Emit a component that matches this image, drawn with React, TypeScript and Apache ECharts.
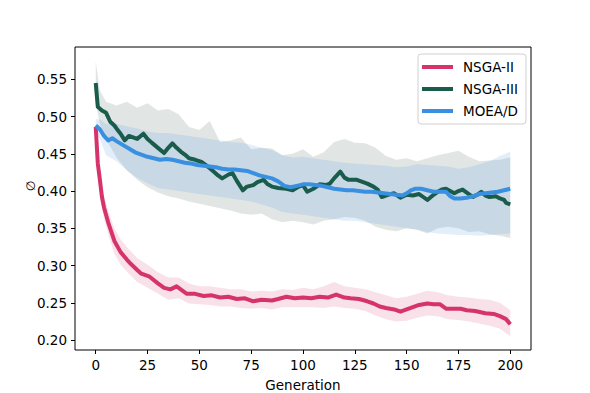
import React, { useEffect, useRef } from "react";
import * as echarts from "echarts";

const SERIES_NAMES = ["NSGA-II", "NSGA-III", "MOEA/D"];
const COLORS = ["#D6336C", "#1A5C4C", "#3A90E0"];
const BAND_COLORS = ["rgba(214,51,108,0.15)", "rgba(40,80,70,0.14)", "rgba(58,144,224,0.15)"];

const X_TICKS = [0, 25, 50, 75, 100, 125, 150, 175, 200];
const Y_TICKS = [0.2, 0.25, 0.3, 0.35, 0.4, 0.45, 0.5, 0.55];

// NSGA-II mean
const nsga2Gens = [0,1,2,3,4,6,9,12,15,17,20,22,26,30,33,36,39,42,44,48,52,56,60,64,68,72,76,80,85,88,92,96,100,104,108,112,116,120,123,127,131,134,137,140,144,147,150,153,156,160,163,166,169,172,176,179,183,188,192,195,198,200];
const nsga2Vals = [0.486,0.437,0.415,0.392,0.378,0.358,0.333,0.318,0.308,0.302,0.294,0.289,0.285,0.276,0.270,0.268,0.272,0.266,0.262,0.262,0.259,0.260,0.257,0.258,0.255,0.256,0.252,0.254,0.253,0.255,0.258,0.256,0.257,0.256,0.258,0.257,0.261,0.257,0.256,0.255,0.252,0.249,0.245,0.243,0.241,0.238,0.241,0.244,0.247,0.249,0.248,0.248,0.242,0.242,0.242,0.240,0.239,0.236,0.235,0.232,0.228,0.221];

// NSGA-III mean
const nsga3Gens = [0,1,3,5,7,9,10,12,14,16,18,20,23,25,27,30,33,35,37,39,41,43,45,48,51,54,57,59,61,64,66,68,71,73,76,78,81,83,85,88,92,95,98,100,102,105,108,111,113,115,118,120,122,126,129,131,134,136,138,141,144,147,150,153,156,158,160,163,165,167,169,171,173,175,177,180,182,184,186,188,190,193,195,197,198,200];
const nsga3Vals = [0.545,0.513,0.508,0.505,0.493,0.488,0.484,0.477,0.468,0.474,0.472,0.470,0.477,0.470,0.465,0.458,0.451,0.458,0.464,0.458,0.453,0.449,0.444,0.442,0.439,0.433,0.426,0.421,0.417,0.422,0.424,0.414,0.401,0.406,0.408,0.412,0.415,0.409,0.406,0.404,0.403,0.401,0.406,0.408,0.399,0.403,0.409,0.408,0.410,0.417,0.426,0.418,0.415,0.415,0.412,0.410,0.406,0.402,0.392,0.395,0.397,0.391,0.395,0.394,0.396,0.392,0.388,0.395,0.399,0.402,0.403,0.400,0.397,0.400,0.402,0.396,0.392,0.395,0.399,0.394,0.392,0.393,0.390,0.388,0.384,0.382];

// MOEA/D mean
const moeadGens = [0,2,4,6,8,10,13,16,19,22,25,28,31,34,37,40,43,46,49,52,55,58,61,64,67,70,73,76,79,82,85,88,91,94,97,100,103,106,109,112,115,118,121,124,127,130,133,136,139,142,145,148,150,152,154,157,160,163,166,169,171,173,176,179,182,185,188,191,194,197,200];
const moeadVals = [0.488,0.483,0.474,0.468,0.471,0.467,0.462,0.457,0.452,0.449,0.446,0.444,0.442,0.443,0.442,0.440,0.438,0.437,0.435,0.434,0.433,0.432,0.430,0.429,0.429,0.428,0.427,0.424,0.421,0.419,0.417,0.413,0.407,0.405,0.407,0.409,0.409,0.408,0.407,0.405,0.403,0.402,0.401,0.401,0.400,0.399,0.399,0.398,0.397,0.396,0.395,0.394,0.397,0.401,0.403,0.403,0.401,0.399,0.399,0.399,0.393,0.390,0.390,0.391,0.393,0.396,0.397,0.398,0.399,0.401,0.403];

// Bands
const nsga2BandGens = [0,1,2,3,4,6,9,12,15,20,25,30,35,40,45,50,55,60,65,70,75,80,85,90,95,100,105,110,115,120,125,130,135,140,145,150,155,160,165,170,175,180,185,190,195,200];
const nsga2Upper = [0.490,0.447,0.428,0.406,0.393,0.374,0.350,0.335,0.325,0.310,0.301,0.291,0.284,0.284,0.276,0.272,0.272,0.270,0.268,0.268,0.265,0.266,0.265,0.268,0.267,0.270,0.268,0.272,0.278,0.272,0.270,0.268,0.264,0.260,0.256,0.258,0.262,0.266,0.264,0.260,0.258,0.257,0.255,0.254,0.250,0.240];
const nsga2Lower = [0.482,0.427,0.402,0.378,0.363,0.342,0.316,0.301,0.292,0.278,0.270,0.262,0.254,0.256,0.249,0.248,0.247,0.245,0.245,0.243,0.242,0.243,0.241,0.244,0.244,0.244,0.244,0.243,0.245,0.243,0.242,0.239,0.233,0.228,0.225,0.226,0.230,0.233,0.232,0.228,0.227,0.225,0.222,0.219,0.215,0.205];

const bandGens = [0,2,5,10,15,20,25,30,35,40,45,50,55,60,65,70,75,80,85,90,95,100,105,110,115,120,125,130,135,140,145,150,155,160,165,170,175,180,185,190,195,200];
const nsga3Upper = [0.574,0.535,0.520,0.515,0.520,0.512,0.518,0.508,0.510,0.503,0.486,0.482,0.494,0.466,0.468,0.472,0.456,0.458,0.457,0.448,0.450,0.456,0.446,0.452,0.466,0.470,0.465,0.464,0.458,0.447,0.442,0.444,0.440,0.444,0.448,0.451,0.454,0.446,0.440,0.441,0.442,0.445];
const nsga3Lower = [0.518,0.490,0.470,0.445,0.428,0.415,0.405,0.398,0.393,0.390,0.386,0.383,0.380,0.377,0.374,0.370,0.368,0.370,0.362,0.358,0.360,0.358,0.355,0.360,0.362,0.365,0.364,0.360,0.352,0.348,0.346,0.350,0.348,0.343,0.350,0.352,0.350,0.345,0.346,0.342,0.340,0.337];
const moeadUpper = [0.497,0.496,0.490,0.490,0.487,0.484,0.480,0.478,0.478,0.476,0.474,0.472,0.470,0.468,0.466,0.465,0.462,0.458,0.455,0.448,0.445,0.446,0.444,0.442,0.440,0.438,0.437,0.436,0.435,0.434,0.432,0.433,0.436,0.435,0.434,0.433,0.430,0.432,0.436,0.440,0.447,0.453];
const moeadLower = [0.479,0.470,0.448,0.440,0.428,0.418,0.410,0.404,0.402,0.400,0.398,0.396,0.394,0.392,0.390,0.388,0.386,0.382,0.378,0.372,0.370,0.368,0.366,0.364,0.362,0.360,0.360,0.358,0.356,0.354,0.352,0.350,0.348,0.345,0.343,0.342,0.341,0.341,0.340,0.341,0.342,0.343];

const FONT = "DejaVu Sans";

function zip(g: number[], v: number[]) {
  return g.map((x, i) => [x, v[i]]);
}

function band(gens: number[], lo: number[], hi: number[], color: string) {
  return {
    type: "custom",
    silent: true,
    z: 1,
    data: [[gens[0], lo[0]]],
    renderItem: (_params: any, api: any) => {
      const pts: number[][] = [];
      for (let i = 0; i < gens.length; i++) pts.push(api.coord([gens[i], hi[i]]));
      for (let i = gens.length - 1; i >= 0; i--) pts.push(api.coord([gens[i], lo[i]]));
      return { type: "polygon", shape: { points: pts }, style: { fill: color, stroke: "none" } };
    },
  };
}

function line(name: string, gens: number[], vals: number[], color: string) {
  return {
    type: "line", name, data: zip(gens, vals), symbol: "none",
    lineStyle: { width: 4, color, join: "round" }, itemStyle: { color }, z: 3,
  };
}

export default function App() {
  const ref = useRef<HTMLDivElement>(null);
  useEffect(() => {
    if (!ref.current) return;
    const chart = echarts.init(ref.current, undefined, { renderer: "svg" });
    chart.setOption({
      animation: false,
      backgroundColor: "#fff",
      grid: {
        left: 75, right: 59, top: 47, bottom: 43, show: true, borderColor: "#000", borderWidth: 1,
        backgroundColor: "transparent", containLabel: false, outerBoundsMode: "none",
      },
      xAxis: {
        type: "value", min: -10, max: 210,
        name: "Generation", nameLocation: "middle", nameGap: 28,
        nameTextStyle: { fontFamily: FONT, fontSize: 13.5, color: "#000" },
        axisLine: { show: false, onZero: false },
        axisTick: { show: true, length: 4, lineStyle: { color: "#000" }, customValues: X_TICKS },
        axisLabel: { customValues: X_TICKS, fontFamily: FONT, fontSize: 13.5, color: "#000", margin: 8 },
        splitLine: { show: false },
      },
      yAxis: {
        type: "value", min: 0.18657, max: 0.5934,
        axisLine: { show: false, onZero: false },
        axisTick: { show: true, length: 4, lineStyle: { color: "#000" }, customValues: Y_TICKS },
        axisLabel: { customValues: Y_TICKS, fontFamily: FONT, fontSize: 13.5, color: "#000", margin: 8, formatter: (v: number) => v.toFixed(2) },
        splitLine: { show: false },
      },
      legend: {
        data: SERIES_NAMES,
        orient: "vertical", left: 418, top: 54,
        itemWidth: 31, itemHeight: 4, itemGap: 8, icon: "rect",
        padding: [6, 8, 6, 4],
        borderColor: "#d0d0d0", borderWidth: 1, borderRadius: 3,
        backgroundColor: "rgba(255,255,255,0.8)",
        textStyle: { fontFamily: FONT, fontSize: 13.5, color: "#000", padding: [0, 0, 0, 5] },
      },
      graphic: [
        {
          type: "text", x: 31, y: 186, rotation: Math.PI / 2,
          style: { text: "∅", fontFamily: FONT, fontSize: 12, fill: "#000", align: "center", verticalAlign: "middle" },
        },
      ],
      series: [
        band(nsga2BandGens, nsga2Lower, nsga2Upper, BAND_COLORS[0]),
        band(bandGens, nsga3Lower, nsga3Upper, BAND_COLORS[1]),
        band(bandGens, moeadLower, moeadUpper, BAND_COLORS[2]),
        line(SERIES_NAMES[0], nsga2Gens, nsga2Vals, COLORS[0]),
        line(SERIES_NAMES[1], nsga3Gens, nsga3Vals, COLORS[1]),
        line(SERIES_NAMES[2], moeadGens, moeadVals, COLORS[2]),
      ],
    });
    return () => chart.dispose();
  }, []);
  return <div ref={ref} style={{ position: "fixed", left: 0, top: 0, width: 590, height: 393 }} />;
}
